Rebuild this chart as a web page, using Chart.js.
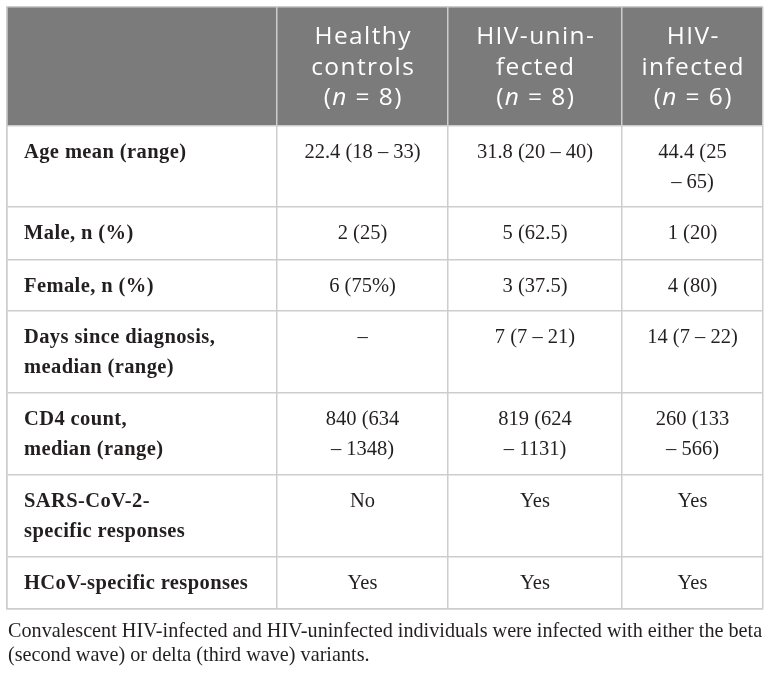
<!DOCTYPE html>
<html>
<head>
<meta charset="utf-8">
<script src="https://cdn.jsdelivr.net/npm/chart.js@4/dist/chart.umd.min.js"></script>
<style>
html,body{margin:0;padding:0;background:#ffffff;}
#wrap{position:relative;width:772px;height:675px;}
</style>
</head>
<body>
<div id="wrap"><canvas id="c" width="772" height="675"></canvas></div>
<script>
// ---- data ----
const groupNames = [["Healthy", "controls"], ["HIV-unin-", "fected"], ["HIV-", "infected"]];
const groupN = [8, 8, 6];
const rowLabels = [
  ["Age mean (range)"],
  ["Male, n (%)"],
  ["Female, n (%)"],
  ["Days since diagnosis,", "meadian (range)"],
  ["CD4 count,", "median (range)"],
  ["SARS-CoV-2-", "specific responses"],
  ["HCoV-specific responses"]
];
const healthyControls = [["22.4 (18 – 33)"], ["2 (25)"], ["6 (75%)"], ["–"], ["840 (634", "– 1348)"], ["No"], ["Yes"]];
const hivUninfected = [["31.8 (20 – 40)"], ["5 (62.5)"], ["3 (37.5)"], ["7 (7 – 21)"], ["819 (624", "– 1131)"], ["Yes"], ["Yes"]];
const hivInfected = [["44.4 (25", "– 65)"], ["1 (20)"], ["4 (80)"], ["14 (7 – 22)"], ["260 (133", "– 566)"], ["Yes"], ["Yes"]];
const footnote = [
  "Convalescent HIV-infected and HIV-uninfected individuals were infected with either the beta",
  "(second wave) or delta (third wave) variants."
];

// ---- layout (table units) ----
const colEdges = [0, 270, 441, 615, 756];
const rowEdges = [0, 119, 200, 253, 304, 386, 468, 550, 602];

const columnsData = [healthyControls, hivUninfected, hivInfected];

const HEADER_BG = '#7b7b7b';
const GRID = '#cdcdcd';
const SANS = '"Open Sans", sans-serif';
const SERIF = '"Liberation Serif", "Times New Roman", serif';

const tablePlugin = {
  id: 'tablePlugin',
  beforeDraw(chart) {
    const {ctx, scales: {x, y}} = chart;
    ctx.save();
    ctx.fillStyle = HEADER_BG;
    const x0 = x.getPixelForValue(colEdges[0]);
    const x1 = x.getPixelForValue(colEdges[colEdges.length - 1]);
    const y0 = y.getPixelForValue(rowEdges[0]);
    const y1 = y.getPixelForValue(rowEdges[1]);
    ctx.fillRect(x0, y0, x1 - x0, y1 - y0);
    ctx.restore();
  },
  afterDraw(chart) {
    const {ctx, scales: {x, y}} = chart;
    ctx.save();
    // header
    ctx.fillStyle = '#ffffff';
    ctx.textBaseline = 'alphabetic';
    const headTop = y.getPixelForValue(rowEdges[0]);
    const hBase = [36.5, 67.5, 98];
    const hFont = '24.5px ' + SANS;
    const hItal = 'italic 24.5px ' + SANS;
    const spacing = 1.4;
    ctx.letterSpacing = spacing + 'px';
    groupNames.forEach((lines, ci) => {
      const cx = (x.getPixelForValue(colEdges[ci + 1]) + x.getPixelForValue(colEdges[ci + 2])) / 2 + spacing / 2;
      ctx.font = hFont;
      ctx.textAlign = 'center';
      lines.forEach((t, li) => ctx.fillText(t, cx, headTop + hBase[li]));
      // (n = N) with italic n
      const parts = [['(', hFont], ['n', hItal], [' = ' + groupN[ci] + ')', hFont]];
      let total = 0;
      parts.forEach(p => { ctx.font = p[1]; total += ctx.measureText(p[0]).width; });
      let px = cx - total / 2;
      ctx.textAlign = 'left';
      parts.forEach(p => { ctx.font = p[1]; ctx.fillText(p[0], px, headTop + hBase[2]); px += ctx.measureText(p[0]).width; });
    });
    // body
    ctx.fillStyle = '#231f20';
    const lineH = 30;
    rowLabels.forEach((lines, ri) => {
      const top = y.getPixelForValue(rowEdges[ri + 1]);
      ctx.font = 'bold 20.5px ' + SERIF;
      ctx.letterSpacing = '0.4px';
      ctx.textAlign = 'left';
      const lx = x.getPixelForValue(colEdges[0]) + 17;
      lines.forEach((t, li) => ctx.fillText(t, lx, top + 31.5 + li * lineH));
      ctx.font = '20.5px ' + SERIF;
      ctx.letterSpacing = '0px';
      ctx.textAlign = 'center';
      columnsData.forEach((col, ci) => {
        const cx = (x.getPixelForValue(colEdges[ci + 1]) + x.getPixelForValue(colEdges[ci + 2])) / 2;
        col[ri].forEach((t, li) => ctx.fillText(t, cx, top + 31.5 + li * lineH));
      });
    });
    // footnote
    ctx.font = '20.2px ' + SERIF;
    ctx.letterSpacing = '0px';
    ctx.textAlign = 'left';
    const fTop = y.getPixelForValue(rowEdges[rowEdges.length - 1]);
    footnote.forEach((t, i) => ctx.fillText(t, 8, fTop + 28 + i * 24));
    ctx.restore();
  }
};

new Chart(document.getElementById('c'), {
  type: 'scatter',
  data: { datasets: [{ data: [], pointRadius: 0 }] },
  options: {
    responsive: false,
    animation: false,
    events: [],
    layout: { padding: { left: 7, right: 9, top: 7, bottom: 66 } },
    plugins: { legend: { display: false }, tooltip: { enabled: false }, title: { display: false } },
    scales: {
      x: {
        type: 'linear', min: colEdges[0], max: colEdges[colEdges.length - 1],
        afterBuildTicks: (axis) => { axis.ticks = colEdges.map(v => ({ value: v })); },
        ticks: { display: false },
        grid: { color: GRID, lineWidth: 1.5, drawTicks: false },
        border: { display: true, color: GRID, width: 1.5 }
      },
      y: {
        type: 'linear', reverse: true, min: rowEdges[0], max: rowEdges[rowEdges.length - 1],
        afterBuildTicks: (axis) => { axis.ticks = rowEdges.map(v => ({ value: v })); },
        ticks: { display: false },
        grid: { color: GRID, lineWidth: 1.5, drawTicks: false },
        border: { display: true, color: GRID, width: 1.5 }
      }
    }
  },
  plugins: [tablePlugin]
});
</script>
</body>
</html>
